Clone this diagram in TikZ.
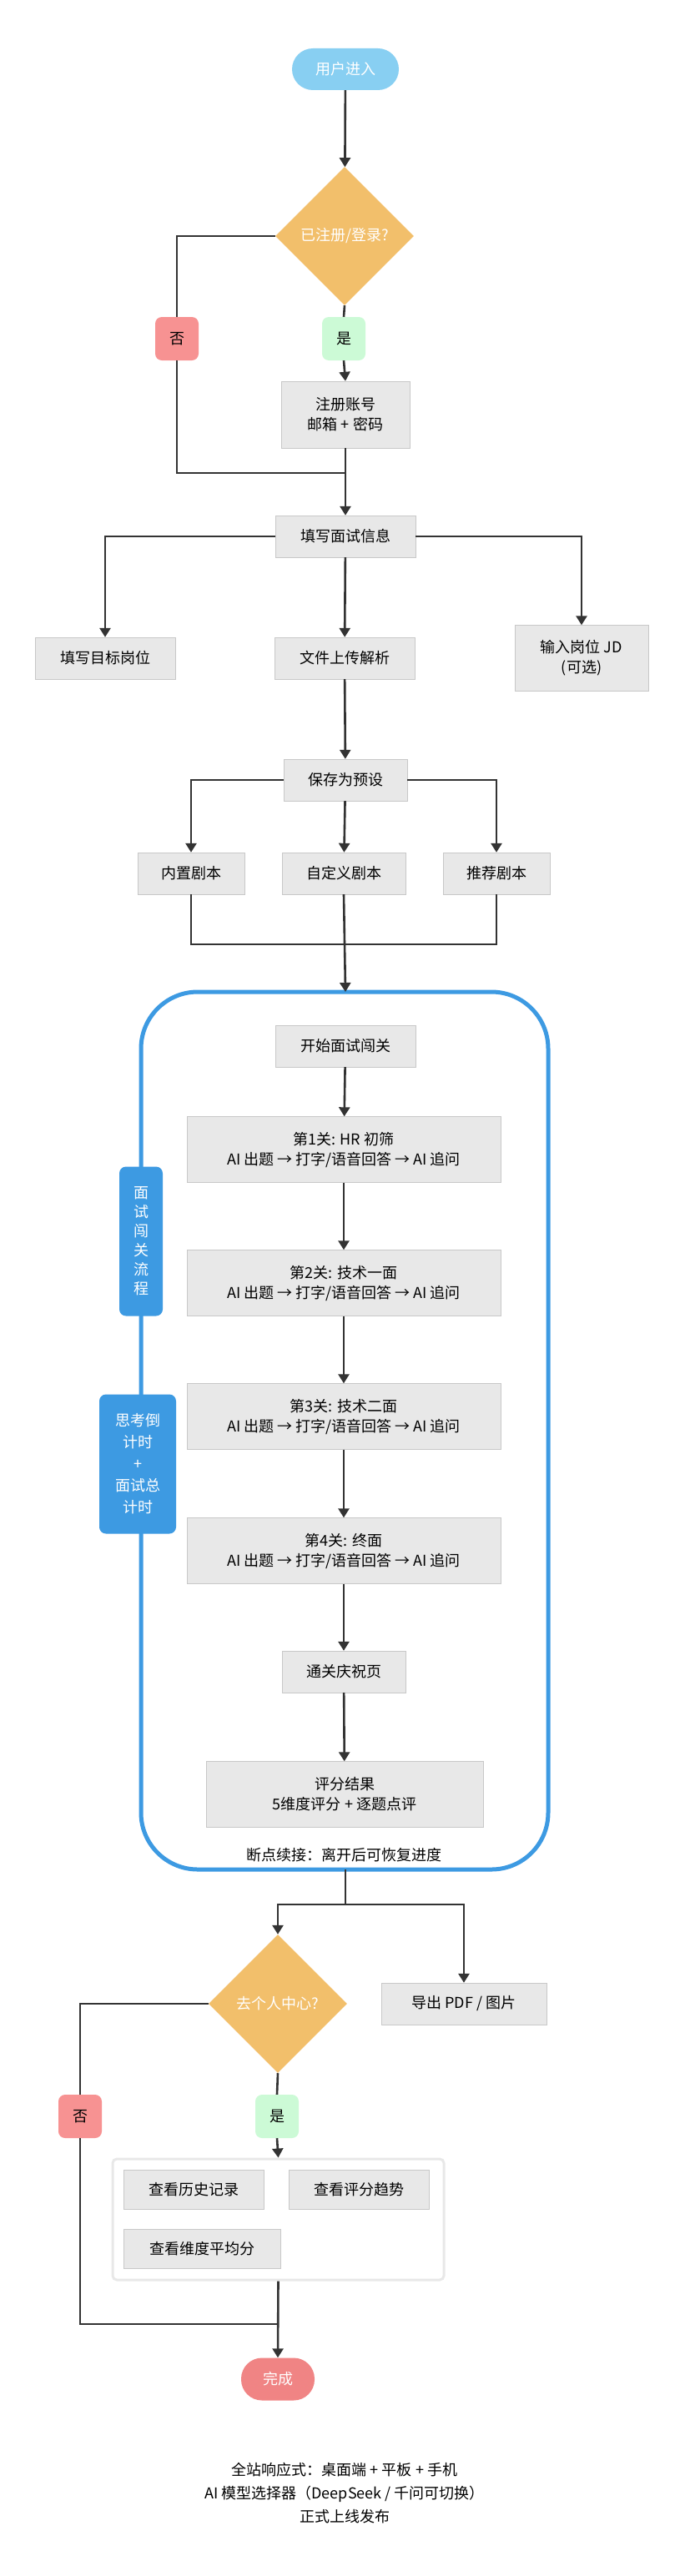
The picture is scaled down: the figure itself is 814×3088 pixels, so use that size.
\documentclass[tikz,border=0pt]{standalone}
\usepackage{fontspec}
\setmainfont{Noto Sans CJK SC}
\usepackage{tikz}
\usetikzlibrary{arrows.meta, shapes.geometric}

\definecolor{boxgray}{HTML}{E8E8E8}
\definecolor{boxline}{HTML}{C8C8C8}
\definecolor{linedark}{HTML}{333333}
\definecolor{startblue}{HTML}{88CFF2}
\definecolor{diamondorange}{HTML}{F2BF6B}
\definecolor{nored}{HTML}{F79292}
\definecolor{yesgreen}{HTML}{CCFAD6}
\definecolor{flowblue}{HTML}{3D9AE2}
\definecolor{endred}{HTML}{F08484}

\tikzset{
    stepbox/.style={draw=boxline, fill=boxgray, minimum height=50pt, align=center, inner sep=2pt},
    decision/.style={diamond, aspect=1, fill=diamondorange, text=white, minimum width=166pt, minimum height=166pt, inner sep=0pt},
    answer/.style={rounded corners=8pt, minimum width=52pt, minimum height=52pt},
    flowline/.style={draw=linedark, line width=2.6pt},
    flowarrow/.style={flowline, -{Triangle[length=11pt, width=13pt]}},
}

\begin{document}
\begin{tikzpicture}[x=1pt, y=-1pt, font=\fontsize{18}{24}\selectfont]

    \useasboundingbox (0,0) rectangle (814,3088);

    % start and login
    \node[fill=startblue, text=white, rounded corners=25pt, minimum width=128pt, minimum height=50pt] (enter) at (414,83) {用户进入};
    \node[decision] (login) at (413,283) {已注册/登录?};
    \node[answer, fill=nored] (no) at (212,406) {否};
    \node[answer, fill=yesgreen] (yes) at (412,406) {是};
    \node[stepbox, minimum width=154pt, minimum height=80pt] (register) at (414,497) {注册账号\\邮箱 + 密码};
    \coordinate (join1) at (414,567);

    % interview info
    \node[stepbox, minimum width=168pt] (info) at (414,643) {填写面试信息};
    \node[stepbox, minimum width=168pt] (target) at (126,789) {填写目标岗位};
    \node[stepbox, minimum width=168pt] (upload) at (413,789) {文件上传解析};
    \node[stepbox, minimum width=160pt, minimum height=79pt] (jd) at (697,789) {输入岗位 JD\\(可选)};

    % presets
    \node[stepbox, minimum width=148pt] (preset) at (414,935) {保存为预设};
    \node[stepbox, minimum width=128pt] (builtin) at (229,1047) {内置剧本};
    \node[stepbox, minimum width=148pt] (custom) at (412,1047) {自定义剧本};
    \node[stepbox, minimum width=128pt] (recommend) at (595,1047) {推荐剧本};
    \coordinate (join2) at (414,1132);

    % interview stages
    \draw[flowblue, line width=5pt, rounded corners=68pt] (169,1189) rectangle (657,2241);
    \coordinate (flowtop) at (414,1189);
    \coordinate (flowbot) at (414,2241);
    \node[fill=flowblue, text=white, rounded corners=8pt, minimum width=52pt, minimum height=179pt, align=center, font=\fontsize{18}{23}\selectfont] (stagetag) at (169,1488) {面\\试\\闯\\关\\流\\程};
    \node[fill=flowblue, text=white, rounded corners=8pt, minimum width=92pt, minimum height=167pt, align=center, font=\fontsize{18}{26}\selectfont] (timertag) at (165,1755) {思考倒\\计时\\+\\面试总\\计时};

    \node[stepbox, minimum width=168pt] (begin) at (414,1254) {开始面试闯关};
    \node[stepbox, minimum width=376pt, minimum height=79pt] (stage1) at (412,1378) {第1关: HR 初筛\\AI 出题 → 打字/语音回答 → AI 追问};
    \node[stepbox, minimum width=376pt, minimum height=79pt] (stage2) at (412,1538) {第2关: 技术一面\\AI 出题 → 打字/语音回答 → AI 追问};
    \node[stepbox, minimum width=376pt, minimum height=79pt] (stage3) at (412,1698) {第3关: 技术二面\\AI 出题 → 打字/语音回答 → AI 追问};
    \node[stepbox, minimum width=376pt, minimum height=79pt] (stage4) at (412,1859) {第4关: 终面\\AI 出题 → 打字/语音回答 → AI 追问};
    \node[stepbox, minimum width=148pt] (celebrate) at (412,2004) {通关庆祝页};
    \node[stepbox, minimum width=332pt, minimum height=79pt] (result) at (413,2151) {评分结果\\5维度评分 + 逐题点评};
    \node (resume) at (412,2224) {断点续接：离开后可恢复进度};

    % personal center
    \coordinate (split) at (414,2283);
    \node[decision] (center) at (333,2402) {去个人中心?};
    \node[stepbox, minimum width=198pt] (export) at (556,2402) {导出 PDF / 图片};
    \node[answer, fill=nored] (no2) at (96,2537) {否};
    \node[answer, fill=yesgreen] (yes2) at (332,2537) {是};
    \node[draw=boxgray, line width=3pt, rounded corners=5pt, minimum width=397pt, minimum height=145pt] (panel) at (333.5,2660.5) {};
    \node[stepbox, minimum width=168pt, minimum height=47pt] (history) at (232,2625) {查看历史记录};
    \node[stepbox, minimum width=168pt, minimum height=47pt] (trend) at (430,2625) {查看评分趋势};
    \node[stepbox, minimum width=188pt, minimum height=47pt] (average) at (242,2696) {查看维度平均分};
    \coordinate (join4) at (332,2786);
    \node[fill=endred, text=white, rounded corners=25pt, minimum width=88pt, minimum height=51pt] (finish) at (333,2852) {完成};

    \node[align=center, font=\fontsize{18}{28}\selectfont] (footer) at (413,2989) {全站响应式：桌面端 + 平板 + 手机\\AI 模型选择器（DeepSeek / 千问可切换）\\正式上线发布};

    % connectors
    \draw[flowarrow] (enter) -- (login);
    \draw[flowline] (login.west) -| (no.north);
    \draw[flowline] (no.south) |- (join1);
    \draw[flowline] (login.south) -- (yes.north);
    \draw[flowarrow] (yes.south) -- (register.north);
    \draw[flowarrow] (register.south) -- (info.north);
    \draw[flowarrow] (info.west) -| (target.north);
    \draw[flowarrow] (info) -- (upload);
    \draw[flowarrow] (info.east) -| (jd.north);
    \draw[flowarrow] (upload) -- (preset);
    \draw[flowarrow] (preset.west) -| (builtin.north);
    \draw[flowarrow] (preset) -- (custom);
    \draw[flowarrow] (preset.east) -| (recommend.north);
    \draw[flowline] (builtin.south) |- (join2);
    \draw[flowline] (recommend.south) |- (join2);
    \draw[flowarrow] (custom.south) -- (flowtop);
    \draw[flowarrow] (begin) -- (stage1);
    \draw[flowarrow] (stage1) -- (stage2);
    \draw[flowarrow] (stage2) -- (stage3);
    \draw[flowarrow] (stage3) -- (stage4);
    \draw[flowarrow] (stage4) -- (celebrate);
    \draw[flowarrow] (celebrate) -- (result);
    \draw[flowline] (flowbot) -- (split);
    \draw[flowarrow] (split) -| (center.north);
    \draw[flowarrow] (split) -| (export.north);
    \draw[flowline] (center.west) -| (no2.north);
    \draw[flowline] (no2.south) |- (join4);
    \draw[flowline] (center.south) -- (yes2.north);
    \draw[flowarrow] (yes2.south) -- (panel.north);
    \draw[flowarrow] (panel.south) -- (finish.north);

\end{tikzpicture}
\end{document}
